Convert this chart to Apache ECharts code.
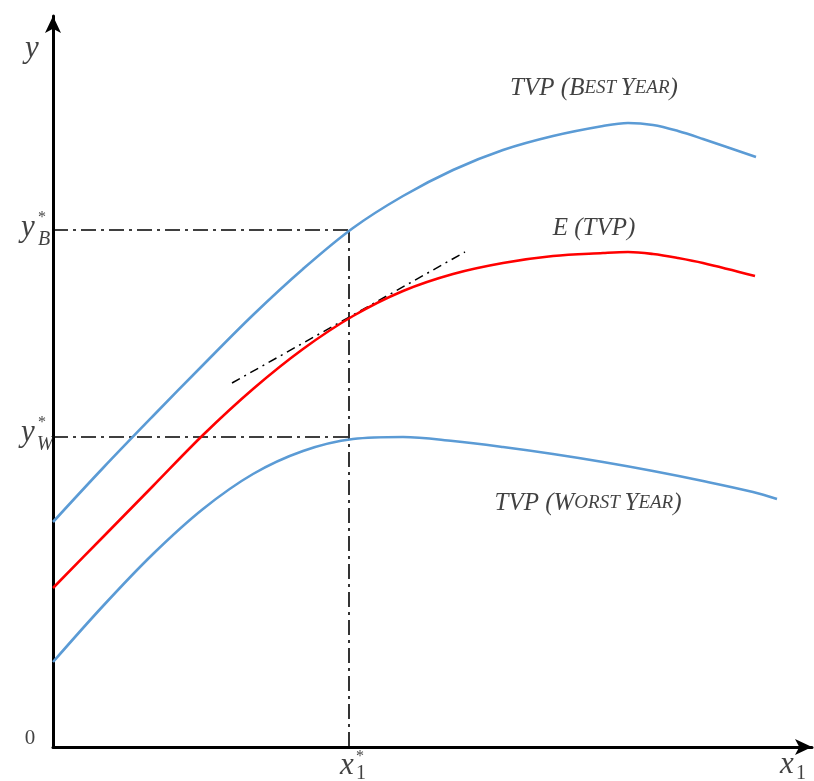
<!DOCTYPE html>
<html lang="en">
<head>
<meta charset="UTF-8">
<title>TVP</title>
<style>
    * { margin: 0; padding: 0; }
    #chart { width: 814px; height: 781px; }
</style>
</head>
<body>
<div id="chart"></div>
<script src="https://cdn.jsdelivr.net/npm/echarts@6/dist/echarts.min.js"></script>
<script>
    // curves, x1 and y in axis units (origin at the axes corner)
    var bestX  = [0, 50, 100, 150, 200, 250, 300, 350, 400, 450, 500, 550, 575, 600, 625, 650, 703];
    var bestY  = [225, 279, 331, 382, 432, 478, 519, 551, 577, 597, 611, 621, 624, 622, 616, 608, 590];
    var meanX  = [0, 50, 100, 150, 200, 250, 300, 350, 400, 450, 500, 550, 575, 600, 625, 650, 702];
    var meanY  = [159, 210, 261, 312, 358, 398, 431, 456, 473, 484, 491, 494, 495, 493, 489, 484, 471];
    var worstX = [0, 50, 100, 150, 200, 250, 300, 350, 400, 450, 500, 550, 600, 650, 700, 724];
    var worstY = [85, 141, 193, 238, 273, 296, 308, 310, 306, 300, 293, 285, 276, 266, 255, 248];

    // tangent to E(TVP) at x1*
    var tangentX = [179, 412];
    var tangentY = [364, 495];

    // guide levels
    var x1Star = 296;
    var yBest = 517;
    var yWorst = 310;

    function zip(xs, ys) {
        return xs.map(function (x, i) { return [x, ys[i]]; });
    }

    var serif = 'Liberation Serif';

    // annotation texts and where they sit
    var notes = [
        { text: '{m|y}', at: [-21, 698] },
        { text: '{m|y}', at: [-25, 519] },
        { text: '{sb|B}', at: [-9, 507] },
        { text: '{st|*}', at: [-11, 529] },
        { text: '{m|y}', at: [-25, 314] },
        { text: '{sb|W}', at: [-8, 302] },
        { text: '{st|*}', at: [-11, 324] },
        { text: '{z|0}', at: [-23, 9] },
        { text: '{m|x}', at: [294, -19] },
        { text: '{d|1}', at: [308, -27] },
        { text: '{st|*}', at: [307, -10] },
        { text: '{m|x}', at: [734, -18] },
        { text: '{d|1}', at: [748, -27] },
        { text: '{n|TVP (B}{s|EST }{n|Y}{s|EAR}{n|)}', at: [541, 659] },
        { text: '{n|E (TVP)}', at: [541, 519] },
        { text: '{n|TVP (W}{s|ORST }{n|Y}{s|EAR}{n|)}', at: [535, 244] }
    ];

    var chart = echarts.init(document.getElementById('chart'));

    function curve(name, xs, ys, color) {
        return {
            name: name,
            type: 'line',
            data: zip(xs, ys),
            smooth: 0.35,
            showSymbol: false,
            lineStyle: { color: color, width: 2.6 },
            z: 3
        };
    }

    function guide(points, dash, width) {
        return {
            type: 'line',
            data: points,
            showSymbol: false,
            lineStyle: { color: '#000', width: width, type: dash },
            z: 2
        };
    }

    var axisLine = {
        show: true,
        symbol: ['none', 'arrow'],
        symbolSize: [12, 17],
        lineStyle: { color: '#000', width: 3 }
    };

    var option = {
        backgroundColor: '#fff',
        animation: false,
        grid: { left: 53, right: 2, top: 16, bottom: 34 },
        xAxis: {
            type: 'value', min: 0, max: 759,
            axisLine: axisLine,
            axisTick: { show: false },
            axisLabel: { show: false },
            splitLine: { show: false }
        },
        yAxis: {
            type: 'value', min: 0, max: 731,
            axisLine: axisLine,
            axisTick: { show: false },
            axisLabel: { show: false },
            splitLine: { show: false }
        },
        series: [
            guide([[0, yBest], [x1Star, yBest]], [15, 5, 3, 5], 1.6),
            guide([[0, yWorst], [x1Star, yWorst]], [15, 5, 3, 5], 1.6),
            guide([[x1Star, 0], [x1Star, yBest]], [15, 5, 3, 5], 1.6),
            guide(zip(tangentX, tangentY), [9, 5, 2, 5], 1.5),
            curve('TVP (Best Year)', bestX, bestY, '#5b9bd5'),
            curve('E (TVP)', meanX, meanY, '#ff0000'),
            curve('TVP (Worst Year)', worstX, worstY, '#5b9bd5'),
            {
                type: 'scatter',
                clip: false,
                symbolSize: 1,
                itemStyle: { color: 'transparent' },
                data: notes.map(function (n) { return { value: n.at, label: { formatter: n.text } }; }),
                label: {
                    show: true,
                    position: 'inside',
                    color: '#111',
                    rich: {
                        m: { fontFamily: serif, fontStyle: 'italic', fontSize: 31, color: '#111' },
                        sb: { fontFamily: serif, fontStyle: 'italic', fontSize: 20, color: '#111' },
                        d: { fontFamily: serif, fontSize: 20, color: '#111' },
                        st: { fontFamily: serif, fontSize: 16, color: '#111' },
                        z: { fontFamily: serif, fontSize: 21, color: '#111' },
                        n: { fontFamily: serif, fontStyle: 'italic', fontSize: 25, color: '#111' },
                        s: { fontFamily: serif, fontStyle: 'italic', fontSize: 19, color: '#111' }
                    }
                },
                z: 5
            }
        ]
    };

    chart.setOption(option);
</script>
</body>
</html>
